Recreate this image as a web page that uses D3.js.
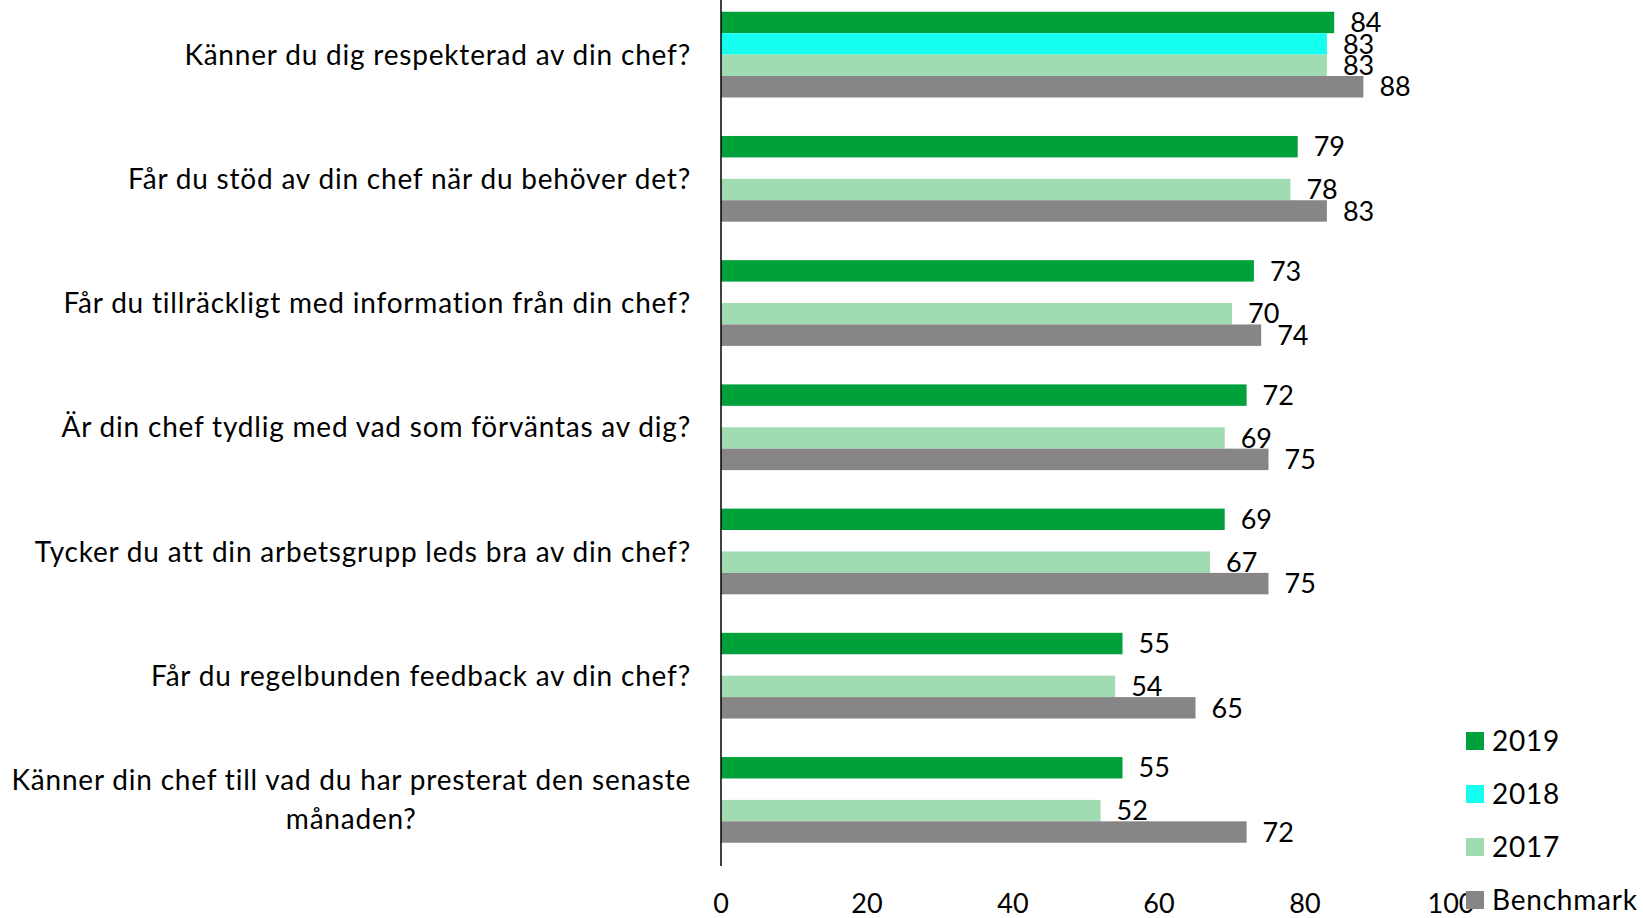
<!DOCTYPE html>
<html>
<head>
<meta charset="utf-8">
<script src="https://cdnjs.cloudflare.com/ajax/libs/d3/7.8.5/d3.min.js"></script>
<style>
  body { margin: 0; background: #fff; }
  svg text { font-family: Lato, "Open Sans", sans-serif; fill: #000; }
  .cat-label, .legend text { letter-spacing: 0.8px; }
</style>
</head>
<body>
<div id="chart"></div>
<script>
var categories = [
  "Känner du dig respekterad av din chef?",
  "Får du stöd av din chef när du behöver det?",
  "Får du tillräckligt med information från din chef?",
  "Är din chef tydlig med vad som förväntas av dig?",
  "Tycker du att din arbetsgrupp leds bra av din chef?",
  "Får du regelbunden feedback av din chef?",
  "Känner din chef till vad du har presterat den senaste|månaden?"
];
var seriesNames = ["2019", "2018", "2017", "Benchmark"];
var seriesColors = ["#00a03a", "#14fff0", "#a1dbb2", "#878586"];
var v2019 = [84, 79, 73, 72, 69, 55, 55];
var v2018 = [83, null, null, null, null, null, null];
var v2017 = [83, 78, 70, 69, 67, 54, 52];
var vBench = [88, 83, 74, 75, 75, 65, 72];
var xTicks = [0, 20, 40, 60, 80, 100];

var series = [v2019, v2018, v2017, vBench];

const width = 1643, height = 918, fontSize = 27, labelSize = 28;

const svg = d3.select('#chart').append('svg')
  .attr('width', width)
  .attr('height', height);

const x = d3.scaleLinear().domain([0, 100]).range([721, 1451]);

const y = d3.scaleBand()
  .domain(d3.range(categories.length))
  .range([-7.5, 862])
  .paddingInner(0.31)
  .paddingOuter(0.155);

const slot = d3.scaleBand()
  .domain(d3.range(series.length))
  .range([0, y.bandwidth()]);

// bars
series.forEach(function(vals, si) {
  const g = svg.append('g').attr('class', 'series-' + si);
  const data = vals.map((v, i) => ({v: v, i: i})).filter(d => d.v != null);

  g.selectAll('rect')
    .data(data)
    .enter()
    .append('rect')
    .attr('x', x(0))
    .attr('y', d => y(d.i) + slot(si))
    .attr('width', d => x(d.v) - x(0))
    .attr('height', slot.bandwidth())
    .attr('fill', seriesColors[si]);

  g.selectAll('text')
    .data(data)
    .enter()
    .append('text')
    .attr('x', d => x(d.v) + 16)
    .attr('y', d => y(d.i) + slot(si) + slot.bandwidth() / 2)
    .attr('dy', '0.36em')
    .style('font-size', fontSize + 'px')
    .text(d => d.v);
});

// vertical axis line
svg.append('line')
  .attr('x1', x(0)).attr('x2', x(0))
  .attr('y1', 0).attr('y2', 866)
  .attr('stroke', '#000')
  .attr('stroke-width', 1.5);

// category labels
categories.forEach(function(c, i) {
  const lines = c.split('|');
  const cy = y(i) + y.bandwidth() / 2;
  const lh = 39;
  const t = svg.append('text')
    .attr('class', 'cat-label')
    .style('font-size', labelSize + 'px');
  lines.forEach(function(l, li) {
    t.append('tspan')
      .attr('y', cy + (li - (lines.length - 1) / 2) * lh)
      .attr('dy', '0.36em')
      .text(l);
  });
  if (lines.length == 1) {
    t.attr('text-anchor', 'end');
    t.selectAll('tspan').attr('x', 691);
  } else {
    const w = t.select('tspan').node().getComputedTextLength();
    t.attr('text-anchor', 'middle');
    t.selectAll('tspan').attr('x', 691 - w / 2);
  }
});

// x tick labels
svg.selectAll('.tick-label')
  .data(xTicks)
  .enter()
  .append('text')
  .attr('class', 'tick-label')
  .attr('x', d => x(d))
  .attr('y', 903)
  .attr('dy', '0.36em')
  .attr('text-anchor', 'middle')
  .style('font-size', fontSize + 'px')
  .text(d => d);

// legend
const legend = svg.selectAll('.legend')
  .data(seriesNames)
  .enter()
  .append('g')
  .attr('class', 'legend')
  .attr('transform', (d, i) => `translate(1466, ${741 + i * 53})`);

legend.append('rect')
  .attr('x', 0).attr('y', -9)
  .attr('width', 18).attr('height', 18)
  .attr('fill', (d, i) => seriesColors[i]);

legend.append('text')
  .attr('x', 26)
  .attr('dy', '0.36em')
  .style('font-size', labelSize + 'px')
  .text(d => d);
</script>
</body>
</html>
